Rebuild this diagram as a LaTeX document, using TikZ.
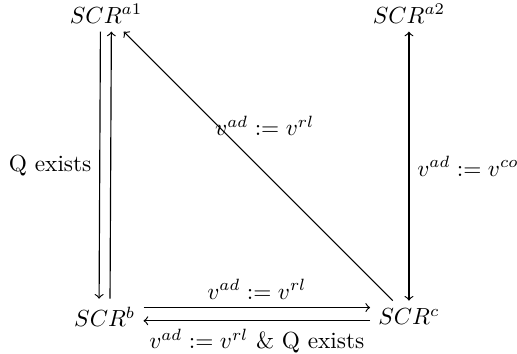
\documentclass[tikz,border=0pt]{standalone}

\begin{document}
\begin{tikzpicture}[>=to,
        scr/.style={inner sep=0.3333em},
        arr/.style={->,line width=0.5pt},
        lbl/.style={inner sep=0.3333em}]
        \useasboundingbox (0,0) rectangle (7.80,5.34);
        \node[scr](a1)at(1.60,5.13){$SCR^{a1}$};
        \node[scr](a2)at(6.17,5.13){$SCR^{a2}$};
        \node[scr](b)at(1.58,0.56){$SCR^{b}$};
        \node[scr](c)at(6.17,0.56){$SCR^{c}$};
        % left pair
        \draw[arr]([xshift=-0.085cm]a1.south)--([xshift=-0.085cm]b.north)
            node[midway,left,lbl](qex){Q exists};
        \draw[arr]([xshift=0.08cm]b.north)--([xshift=0.08cm]a1.south);
        % diagonal
        \draw[arr](c)--(a1)node[pos=0.65,anchor=west,inner sep=0pt,xshift=-0.05cm](ldiag){$v^{ad}:=v^{rl}$};
        % right
        \draw[arr,<->](a2.south)--(c.north)node[midway,right,lbl](lco){$v^{ad}:=v^{co}$};
        % bottom pair
        \draw[arr]([yshift=0.14cm]b.east)--([yshift=0.14cm]c.west)
            node[midway,above,lbl](ltop){$v^{ad}:=v^{rl}$};
        \draw[arr]([yshift=-0.06cm]c.west)--([yshift=-0.06cm]b.east)
            node[midway,below,lbl](lbot){$v^{ad}:=v^{rl}$ \& Q exists};
    \end{tikzpicture}
\end{document}
